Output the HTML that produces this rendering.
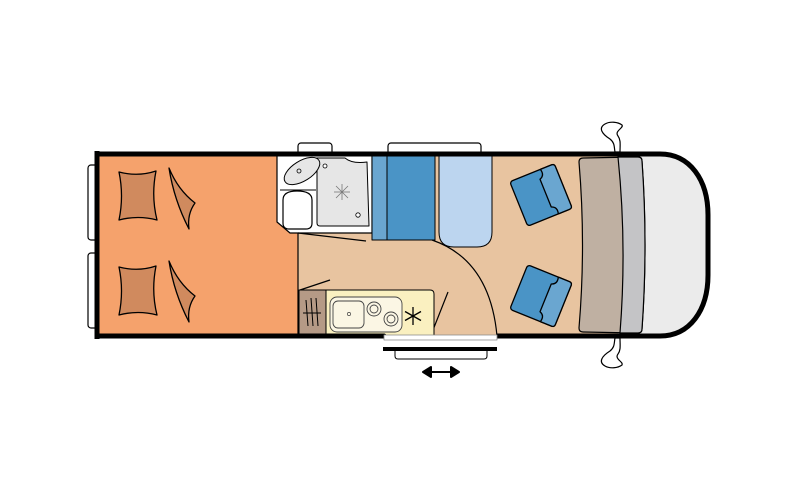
<!DOCTYPE html>
<html><head><meta charset="utf-8"><style>html,body{margin:0;padding:0;background:#fff}svg{display:block}</style></head><body>
<svg width="800" height="500" viewBox="0 0 800 500" xmlns="http://www.w3.org/2000/svg" stroke-linejoin="round">
<g fill="#fff" stroke="#000" stroke-width="1.2">
<rect x="88" y="165" width="11" height="75" rx="3"/>
<rect x="88" y="253" width="11" height="75" rx="3"/>
<rect x="298" y="143" width="34" height="12" rx="3"/>
<rect x="388" y="143" width="93" height="12" rx="3"/>
<path d="M605 124 C598 128,602 134,610 139 C615 143,614 147,615 152 L620 152 C620 145,621 140,618 136 C614 131,624 128,622 125 C618 122,610 121,605 124Z"/>
<path d="M605 366 C598 362,602 356,610 351 C615 347,614 343,615 338 L620 338 C620 345,621 350,618 354 C614 359,624 362,622 365 C618 368,610 369,605 366Z"/>
</g>
<path d="M617 154 L660 154 C690 154,708 180,708 215 L708 275 C708 310,690 336,660 336 L617 336Z" fill="#ebebeb"/>
<rect x="298" y="154" width="320" height="182" fill="#e8c4a0"/>
<rect x="99" y="154" width="199" height="182" fill="#f5a26c"/>
<line x1="298" y1="232" x2="298" y2="336" stroke="#000" stroke-width="1.2"/>
<g fill="#d08a5e" stroke="#000" stroke-width="1.3">
<path d="M119 172 Q138 177 156 171 Q151 196 157 220 Q138 215 119 220 Q124 196 119 172Z"/>
<path d="M169 168 Q178 190 195 203 Q187 214 189 229 Q174 200 169 168Z"/>
<path d="M119 267 Q138 272 156 266 Q151 291 157 315 Q138 310 119 315 Q124 291 119 267Z"/>
<path d="M169 261 Q178 283 195 296 Q187 307 189 322 Q174 293 169 261Z"/>
</g>
<path d="M277 154 L372 154 L372 233 L290 233 L277 222Z" fill="#fff" stroke="#000" stroke-width="1.2"/>
<line x1="280" y1="190" x2="316" y2="190" stroke="#000" stroke-width="1"/>
<path d="M317 158 L345 158 Q352 164 367 162 L369 226 L320 226 Q317 226 317 223Z" fill="#e6e6e6" stroke="#000" stroke-width="1"/>
<ellipse cx="302" cy="171" rx="20" ry="10" transform="rotate(-32 302 171)" fill="#e6e6e6" stroke="#000" stroke-width="1"/>
<circle cx="299" cy="171" r="2" fill="none" stroke="#000" stroke-width="0.8"/>
<path d="M283 200 Q283 191 297 191 Q312 191 312 200 L312 223 Q312 229 306 229 L289 229 Q283 229 283 223Z" fill="#fff" stroke="#000" stroke-width="1.2"/>
<circle cx="325" cy="166" r="2" fill="#fff" stroke="#000" stroke-width="0.8"/>
<circle cx="358" cy="215" r="2.2" fill="#fff" stroke="#000" stroke-width="0.8"/>
<g stroke="#777" stroke-width="0.8"><line x1="334" y1="192" x2="350" y2="192"/><line x1="342" y1="184" x2="342" y2="200"/><line x1="336" y1="186" x2="348" y2="198"/><line x1="348" y1="186" x2="336" y2="198"/></g>
<rect x="372" y="154" width="15" height="86" fill="#6aa6d0" stroke="#000" stroke-width="1"/>
<rect x="387" y="154" width="48" height="86" fill="#4a94c6" stroke="#000" stroke-width="1"/>
<path d="M439 154 L492 154 L492 232 Q492 247 477 247 L454 247 Q439 247 439 232Z" fill="#bcd5ef" stroke="#000" stroke-width="1"/>
<path d="M432 240 Q490 260 497 336" fill="none" stroke="#000" stroke-width="1.2"/>
<g stroke="#000" stroke-width="1.2"><line x1="298" y1="233" x2="366" y2="241"/><line x1="300" y1="290" x2="330" y2="280"/><line x1="433" y1="330" x2="448" y2="292"/></g>
<rect x="299" y="290" width="27" height="46" fill="#b59a86" stroke="#000" stroke-width="1"/>
<g stroke="#000" stroke-width="1"><line x1="306" y1="300" x2="308" y2="326"/><line x1="311" y1="298" x2="313" y2="326"/><line x1="316" y1="298" x2="318" y2="326"/><line x1="303" y1="313" x2="321" y2="313"/></g>
<path d="M326 290 L430 290 Q434 290 434 294 L434 336 L326 336Z" fill="#faf0c0" stroke="#000" stroke-width="1"/>
<rect x="330" y="297" width="72" height="35" rx="7" fill="#fbf6e4" stroke="#444" stroke-width="0.9"/>
<rect x="333" y="301" width="31" height="27" rx="5" fill="#fbf6e4" stroke="#444" stroke-width="0.9"/>
<circle cx="349" cy="314" r="1.6" fill="none" stroke="#444" stroke-width="0.7"/>
<circle cx="374" cy="309" r="7" fill="none" stroke="#444" stroke-width="0.9"/><circle cx="374" cy="309" r="4" fill="none" stroke="#444" stroke-width="0.9"/>
<circle cx="391" cy="319" r="7" fill="none" stroke="#444" stroke-width="0.9"/><circle cx="391" cy="319" r="4" fill="none" stroke="#444" stroke-width="0.9"/>
<g stroke="#000" stroke-width="1.3"><line x1="413" y1="307" x2="413" y2="325"/><line x1="405" y1="311.5" x2="421" y2="320.5"/><line x1="405" y1="320.5" x2="421" y2="311.5"/></g>
<text x="0" y="0" font-family="Liberation Sans, sans-serif" font-size="1" fill="none"> </text>
<g stroke="#000" stroke-width="1.3">
<g transform="rotate(-22 541 195)"><rect x="517" y="171" width="48" height="48" rx="3" fill="#4a94c6"/><path d="M550 171 L562 171 Q565 171 565 174 L565 216 Q565 219 562 219 L550 219 Q552 212 546 210 L546 180 Q552 178 550 171Z" fill="#6aa6d0"/></g>
<g transform="rotate(22 541 296)"><rect x="517" y="272" width="48" height="48" rx="3" fill="#4a94c6"/><path d="M550 272 L562 272 Q565 272 565 275 L565 317 Q565 320 562 320 L550 320 Q552 313 546 311 L546 281 Q552 279 550 272Z" fill="#6aa6d0"/></g>
</g>
<path d="M579 162 Q579 158 583 158 L638 157 Q642 157 642 161 Q648 245 642 329 Q642 333 638 333 L583 332 Q579 332 579 328 Q586 245 579 162Z" fill="#bfb0a2" stroke="#000" stroke-width="1.2"/>
<path d="M618 157 L638 157 Q642 157 642 161 Q648 245 642 329 Q642 333 638 333 L620 333 Q627 245 618 157Z" fill="#c4c4c6" stroke="#000" stroke-width="1.2"/>
<path d="M97 154 L660 154 C690 154,708 180,708 215 L708 275 C708 310,690 336,660 336 L497 336 M384 336 L97 336 Z" fill="none" stroke="#000" stroke-width="5"/>
<line x1="97" y1="151" x2="97" y2="339" stroke="#000" stroke-width="5"/>
<rect x="384" y="335" width="113" height="5" fill="#fff" stroke="#888" stroke-width="0.8"/>
<rect x="383" y="347" width="114" height="4" fill="#000"/>
<path d="M395 351 L395 356 Q395 359 398 359 L484 359 Q487 359 487 356 L487 351" fill="#fff" stroke="#000" stroke-width="1"/>
<g stroke="#000" stroke-width="2" fill="#000"><line x1="428" y1="372" x2="454" y2="372"/><path d="M423 372 L431 367 L431 377Z"/><path d="M459 372 L451 367 L451 377Z"/></g>
</svg>
</body></html>
